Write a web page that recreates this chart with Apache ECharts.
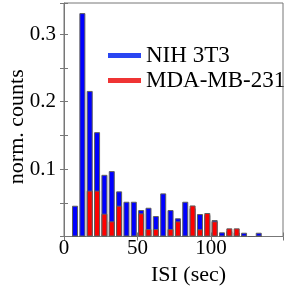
<!DOCTYPE html>
<html><head><meta charset="utf-8">
<script src="https://cdn.jsdelivr.net/npm/echarts@6/dist/echarts.min.js"></script>
<style>html,body{margin:0;padding:0;background:#fff}#c{width:291px;height:289px}</style>
</head><body><div id="c"></div>
<script>
var binCenters = [7.5,12.5,17.5,22.5,27.5,32.5,37.5,42.5,47.5,52.5,57.5,62.5,67.5,72.5,77.5,82.5,87.5,92.5,97.5,102.5,107.5,112.5,117.5,122.5,127.5,132.5];
var nih3t3 = [0.0456,0.331,0.2157,0.1546,0.0914,0.0969,0.0669,0.0515,0.0515,0.0392,0.0426,0.0303,0.0639,0.0392,0.027,0.0515,0.042,0.0333,0.032,0.0244,0.0062,0.008,0.006,0.0056,0,0.0056];
var mda231 = [0,0,0.068,0.068,0.0338,0.0225,0.0456,0,0,0.0343,0.011,0.011,0,0.011,0.0225,0,0.046,0.0107,0.0348,0.0225,0,0.0121,0.0121,0,0,0];
var xTicks = [0,50,100];
var yTickLabels = [0.1,0.2,0.3];
var seriesNames = ['NIH 3T3','MDA-MB-231'];

function pairs(xs, ys){ return xs.map(function(x,i){ return [x, ys[i]]; }); }
var font = 'Liberation Serif';
var axisCol = '#777';
var chart = echarts.init(document.getElementById('c'));
chart.setOption({
  animation:false,
  grid:{left:64,right:8,top:3,bottom:52.5,show:true,borderColor:axisCol,borderWidth:1,containLabel:false,outerBoundsMode:'none'},
  legend:{orient:'vertical',left:103,top:39,itemWidth:33,itemHeight:5,itemGap:2,icon:'rect',
    textStyle:{fontFamily:font,fontSize:23,color:'#000'},
    data:[{name:seriesNames[0],itemStyle:{color:'#2a46f2',borderWidth:0}},{name:seriesNames[1],itemStyle:{color:'#ef3434',borderWidth:0}}]},
  xAxis:[{type:'value',min:0,max:149,interval:50,position:'bottom',
    name:'ISI (sec)',nameLocation:'middle',nameGap:28,nameMoveOverlap:false,
    nameTextStyle:{fontFamily:font,fontSize:22,color:'#000',padding:[0,0,0,30]},
    axisLine:{show:true,lineStyle:{color:axisCol}},
    axisTick:{show:true,inside:true,length:4,lineStyle:{color:axisCol}},
    axisLabel:{fontFamily:font,fontSize:21,color:'#000',margin:1,
      formatter:function(v){return xTicks.indexOf(v)>=0?String(v):'';}},
    splitLine:{show:false}},
   {type:'value',min:0,max:149,interval:50,position:'top',
    axisLine:{show:false},axisTick:{show:true,inside:true,length:4,lineStyle:{color:axisCol}},
    axisLabel:{show:false},splitLine:{show:false}}],
  yAxis:[{type:'value',min:0,max:0.346,interval:0.05,
    name:'norm. counts',nameLocation:'middle',nameGap:36,nameRotate:90,nameMoveOverlap:false,
    nameTextStyle:{fontFamily:font,fontSize:22,color:'#000',padding:[0,14,0,0]},
    axisLine:{show:true,lineStyle:{color:axisCol}},
    axisTick:{show:true,inside:true,length:4,lineStyle:{color:axisCol}},
    axisLabel:{fontFamily:font,fontSize:21,color:'#000',margin:8,
      formatter:function(v){for(var i=0;i<yTickLabels.length;i++){if(Math.abs(v-yTickLabels[i])<1e-6)return String(yTickLabels[i]);}return '';}},
    splitLine:{show:false}},
   {type:'value',min:0,max:0.346,interval:0.05,position:'right',
    axisLine:{show:false},axisTick:{show:true,inside:true,length:4,lineStyle:{color:axisCol}},
    axisLabel:{show:false},splitLine:{show:false}}],
  series:[
    {name:seriesNames[0],type:'bar',xAxisIndex:0,yAxisIndex:0,data:pairs(binCenters,nih3t3),barWidth:6,barGap:'-100%',
      itemStyle:{color:'#0000ff',borderColor:'#5e5e5e',borderWidth:1},z:2},
    {name:seriesNames[1],type:'bar',xAxisIndex:0,yAxisIndex:0,data:pairs(binCenters,mda231),barWidth:6,barGap:'-100%',
      itemStyle:{color:'#ff0000',borderColor:'#5e5e5e',borderWidth:1},z:3}
  ]
});
</script></body></html>
